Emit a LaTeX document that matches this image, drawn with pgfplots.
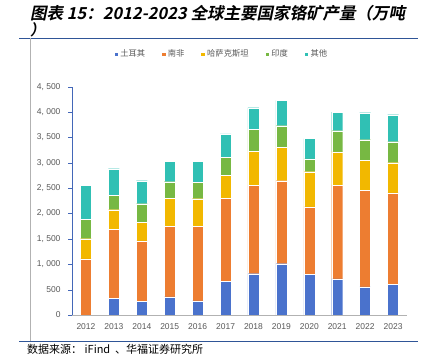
\documentclass[border=0pt]{standalone}
\usepackage{fontspec}
\setmainfont{Liberation Sans}
\newfontfamily\cjk{Noto Sans CJK SC}
\newfontfamily\cjkb[FakeSlant=0.2]{Noto Sans CJK SC Bold}
\usepackage{pgfplots}
\pgfplotsset{compat=1.18}
\definecolor{cTR}{HTML}{4A72CC}
\definecolor{cZA}{HTML}{ED7D31}
\definecolor{cKZ}{HTML}{F2B800}
\definecolor{cIN}{HTML}{77B843}
\definecolor{cOT}{HTML}{30C0B4}
\definecolor{lineblue}{HTML}{2F5597}
\definecolor{tgrey}{HTML}{595959}
\begin{document}
\begin{tikzpicture}
\path[use as bounding box] (0bp,0bp) rectangle (425bp,361bp);
% title
\node[anchor=base west,inner sep=0pt] at (30bp,341bp) {\cjkb\fontsize{16.5bp}{18bp}\selectfont 图表 15：2012-2023 全球主要国家铬矿产量（万吨};
\node[anchor=base west,inner sep=0pt] at (30bp,325bp) {\cjkb\fontsize{15bp}{16bp}\selectfont ）};
\draw[lineblue,line width=0.9bp] (19bp,323bp) -- (418bp,323bp);
\draw[black!30,line width=0.6bp] (30bp,323bp) -- (30bp,20bp);
\draw[lineblue,line width=0.9bp] (19bp,20bp) -- (418bp,20bp);
\node[anchor=base west,inner sep=0pt] at (27bp,8bp) {\cjk\fontsize{11bp}{12bp}\selectfont 数据来源：\ iFind \ 、华福证券研究所};
\begin{axis}[
  at={(72bp,46bp)}, anchor=south west,
  width=335bp, height=228.3bp, scale only axis,
  ybar stacked, bar width=11bp,
  xmin=-0.5, xmax=11.5, ymin=0, ymax=4500,
  xtick={0,...,11},
  xticklabels={2012,2013,2014,2015,2016,2017,2018,2019,2020,2021,2022,2023},
  extra x ticks={-0.5,0.5,...,11.5}, extra x tick labels={},
  extra x tick style={tick style={draw=black!35}},
  major tick length=4bp,
  ytick={0,500,...,4500},
  yticklabels={0,500,{1, 000},{1, 500},{2, 000},{2, 500},{3, 000},{3, 500},{4, 000},{4, 500}},
  axis x line*=bottom, axis y line*=left,
  x axis line style={black!30,-},
  y axis line style={cTR!90!black,-},
  x tick style={draw=none},
  y tick style={draw=cTR!90!black},
  ytick align=outside,
  xtick align=outside,
  tick label style={font=\fontsize{8.5bp}{10bp}\selectfont, text=tgrey},
  xticklabel style={yshift=-1bp},
  yticklabel style={xshift=-4bp},
  legend columns=5,
  legend style={at={(0.446,1.143)}, anchor=center, draw=none, fill=none,
    font=\cjk\fontsize{8.3bp}{9bp}\selectfont, text=tgrey,
    /tikz/every even column/.append style={column sep=14bp},
    /tikz/every odd column/.append style={column sep=0bp}},
  legend image code/.code={\fill[#1] (0bp,-2.2bp) rectangle (4.4bp,2.2bp);},
  every axis plot/.append style={draw=white, line width=0.3bp},
]
\addplot[fill=cTR] coordinates {(0,0) (1,335) (2,269) (3,355) (4,276) (5,664) (6,815) (7,1012) (8,808) (9,710) (10,552) (11,604)};
\addplot[fill=cZA] coordinates {(0,1104) (1,1360) (2,1190) (3,1399) (4,1478) (5,1642) (6,1747) (7,1636) (8,1321) (9,1852) (10,1905) (11,1801)};
\addplot[fill=cKZ] coordinates {(0,400) (1,381) (2,374) (3,552) (4,539) (5,453) (6,670) (7,663) (8,696) (9,651) (10,598) (11,597)};
\addplot[fill=cIN] coordinates {(0,382) (1,289) (2,361) (3,322) (4,322) (5,349) (6,434) (7,421) (8,250) (9,420) (10,401) (11,414)};
\addplot[fill=cOT] coordinates {(0,670) (1,519) (2,454) (3,407) (4,414) (5,460) (6,421) (7,499) (8,401) (9,368) (10,532) (11,533)};
\legend{土耳其,南非,哈萨克斯坦,印度,其他}
\end{axis}
\end{tikzpicture}
\end{document}
